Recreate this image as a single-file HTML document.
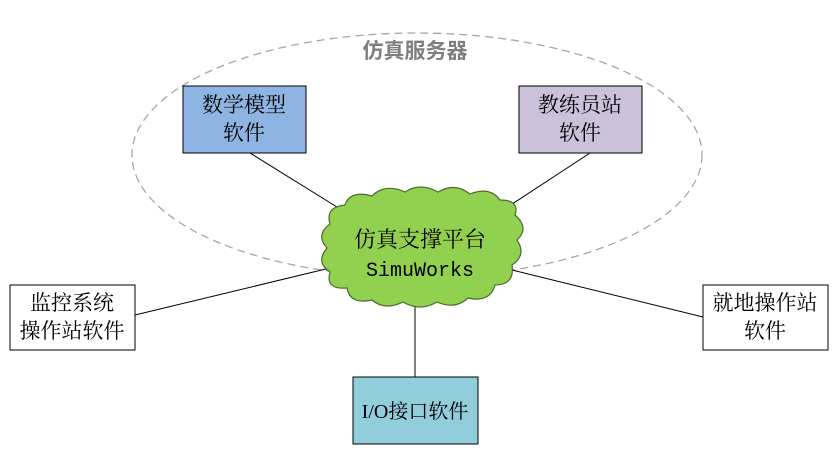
<!DOCTYPE html>
<html><head><meta charset="utf-8"><style>
body{margin:0;background:#fff;}
svg text{font-family:"Liberation Serif","Noto Serif CJK SC","Noto Sans CJK SC",serif;}
</style></head><body>
<svg width="838" height="446" viewBox="0 0 838 446" xmlns="http://www.w3.org/2000/svg">
<ellipse cx="417" cy="155" rx="285" ry="122" fill="none" stroke="#a6a6a6" stroke-width="1.3" stroke-dasharray="8,5"/>
<text x="415" y="58" font-size="21" font-weight="bold" fill="#7f7f7f" text-anchor="middle" style="font-family:'Noto Sans CJK SC',sans-serif">仿真服务器</text>
<g stroke="#000" stroke-width="1">
<line x1="250" y1="153" x2="345" y2="212"/>
<line x1="590" y1="153" x2="500" y2="212"/>
<line x1="135" y1="315" x2="330" y2="268"/>
<line x1="703" y1="317" x2="512" y2="270"/>
<line x1="415" y1="300" x2="415" y2="377"/>
</g>
<path d="M345,205 Q350,190 372,196 Q385,183 405,192 Q420,182 438,192 Q455,182 470,194 Q490,186 500,200 Q520,200 515,215 Q530,228 517,240 Q527,255 512,265 Q515,285 495,285 Q490,303 468,298 Q455,310 437,302 Q420,312 403,302 Q385,311 372,300 Q350,305 347,288 Q325,290 330,272 Q315,262 327,248 Q315,235 330,224 Q325,207 345,205 Z" fill="#92d050" stroke="#4a6b2a" stroke-width="1.2"/>
<text x="420" y="247" font-size="22" text-anchor="middle">仿真支撑平台</text>
<text x="420" y="276" font-size="20" text-anchor="middle" style="font-family:'Liberation Mono',monospace">SimuWorks</text>
<rect x="183" y="86" width="123" height="67" fill="#8eb4e3" stroke="#000"/>
<text x="244" y="112" font-size="21" text-anchor="middle">数学模型</text>
<text x="244" y="140" font-size="21" text-anchor="middle">软件</text>
<rect x="519" y="86" width="123" height="67" fill="#ccc1da" stroke="#000"/>
<text x="580" y="112" font-size="21" text-anchor="middle">教练员站</text>
<text x="580" y="140" font-size="21" text-anchor="middle">软件</text>
<rect x="10" y="285" width="125" height="65" fill="#fff" stroke="#000"/>
<text x="72" y="310" font-size="21" text-anchor="middle">监控系统</text>
<text x="72" y="338" font-size="21" text-anchor="middle">操作站软件</text>
<rect x="703" y="285" width="125" height="65" fill="#fff" stroke="#000"/>
<text x="765" y="310" font-size="21" text-anchor="middle">就地操作站</text>
<text x="765" y="338" font-size="21" text-anchor="middle">软件</text>
<rect x="353" y="377" width="125" height="67" fill="#92cddc" stroke="#000"/>
<text x="415" y="418" font-size="20" text-anchor="middle">I/O接口软件</text>
</svg>
</body></html>
